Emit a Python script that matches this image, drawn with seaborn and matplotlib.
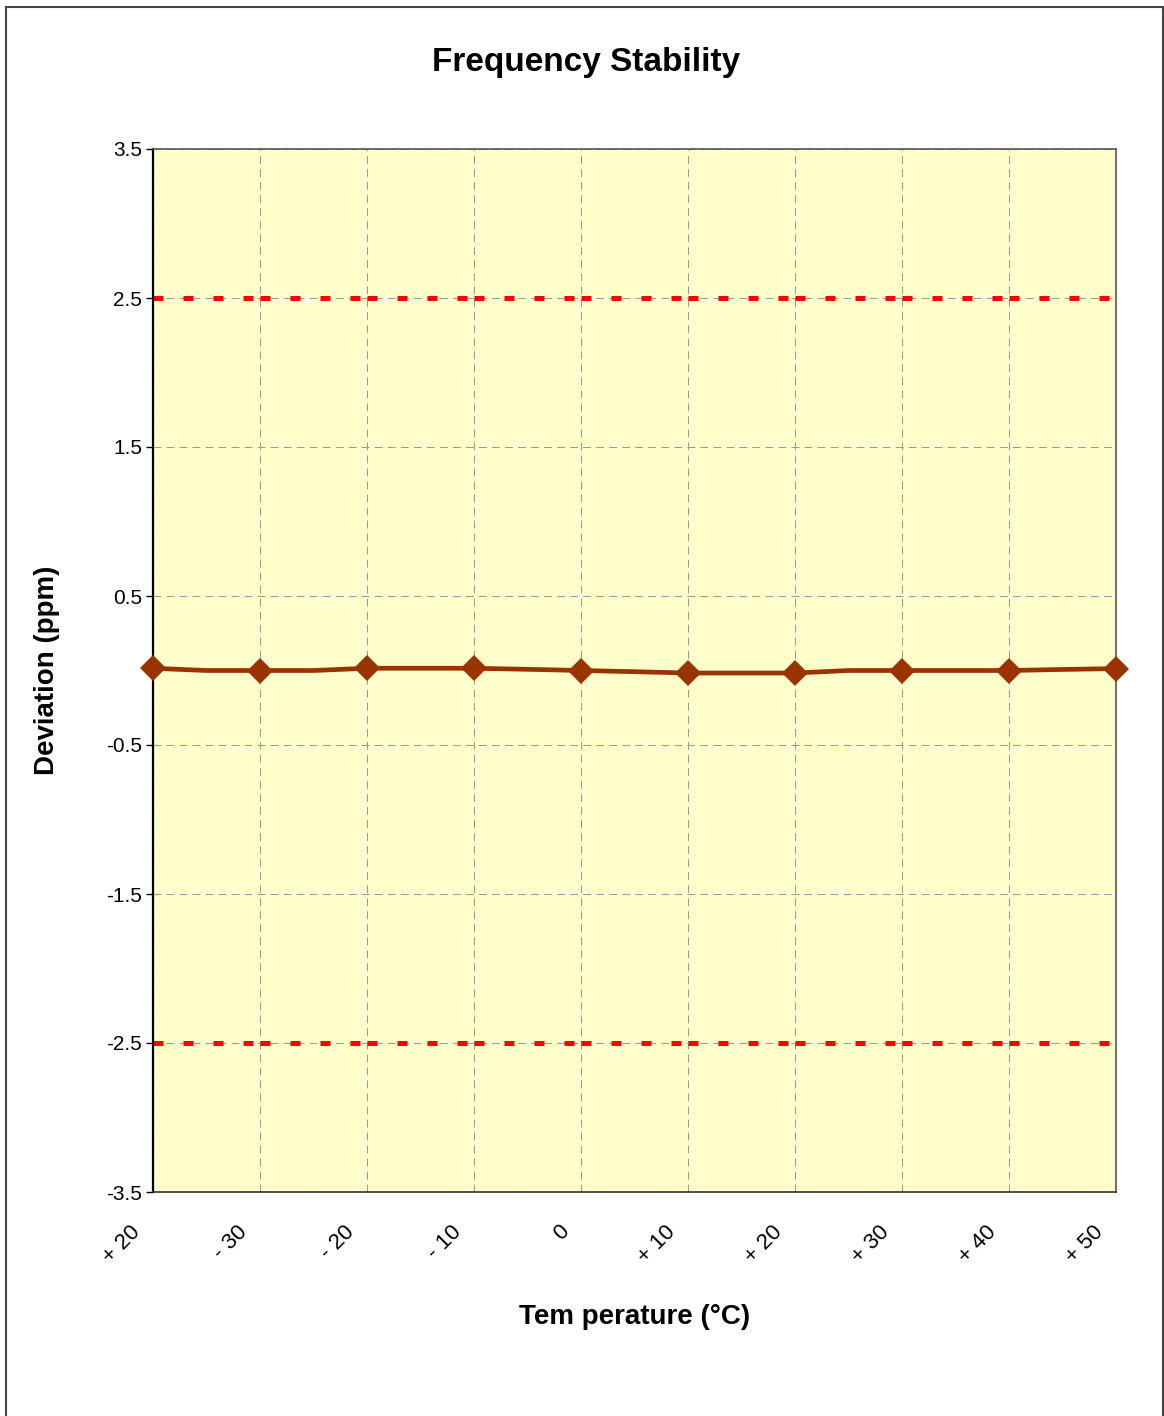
import matplotlib
matplotlib.use("Agg")
import matplotlib.pyplot as plt
import matplotlib.transforms as mtransforms
from matplotlib.patches import Rectangle
import seaborn as sns
import numpy as np

# ---- data ----
temp_labels = ["+ 20", "- 30", "- 20", "- 10", "0", "+ 10", "+ 20", "+ 30", "+ 40", "+ 50"]
deviation = [0.015, 0.0, 0.015, 0.015, 0.0, -0.017, -0.017, 0.0, 0.0, 0.013]
# values of the trace midway between the measured points (line bends)
deviation_mid = [0.0, 0.0, 0.015, 0.008, -0.008, -0.017, 0.0, 0.0, 0.007]
limit_upper = 2.5
limit_lower = -2.5
y_ticks = [3.5, 2.5, 1.5, 0.5, -0.5, -1.5, -2.5, -3.5]

sns.set_style("white")
plt.rcParams['font.family'] = ['Liberation Sans', 'DejaVu Sans']
plt.rcParams['text.color'] = 'black'
plt.rcParams['axes.labelcolor'] = 'black'
plt.rcParams['xtick.color'] = 'black'
plt.rcParams['ytick.color'] = 'black'

W, H = 1164, 1416
fig = plt.figure(figsize=(W / 100, H / 100), dpi=100)
ax = fig.add_axes([153 / W, 1 - 1192 / H, (1116 - 153) / W, (1192 - 149) / H])
ax.set_facecolor("#FFFFCC")

# full trace (measured + mid points)
pos = np.arange(len(deviation))
trace_x, trace_y = [], []
for i in range(len(deviation)):
    trace_x.append(pos[i]); trace_y.append(deviation[i])
    if i < len(deviation_mid):
        trace_x.append(pos[i] + 0.5); trace_y.append(deviation_mid[i])

# limit lines, drawn per category interval so the dash pattern restarts
for lim in (limit_upper, limit_lower):
    ax.hlines([lim] * (len(pos) - 1), pos[:-1], pos[1:], colors="#FF0000",
              linewidth=3.6, linestyles=[(0, (2.0, 4.0))], zorder=2,
              capstyle="butt")

sns.lineplot(x=trace_x, y=trace_y, ax=ax, color="#993300", lw=3.4,
             zorder=4, sort=False, estimator=None)
sns.lineplot(x=pos, y=deviation, ax=ax, color="#993300", lw=0,
             marker="D", markersize=13, markeredgewidth=0,
             zorder=5, clip_on=False, estimator=None)

ax.set_xlim(0, len(deviation) - 1)
ax.set_ylim(-3.5, 3.5)
ax.set_yticks(y_ticks)
ax.set_yticklabels([f"{v:.1f}" for v in y_ticks], fontsize=15)
ax.set_xticks(pos)
ax.set_xticklabels(temp_labels, fontsize=16, rotation=45, ha="right",
                   va="top")
ax.tick_params(axis="x", length=0, pad=21)
ax.tick_params(axis="y", length=5, width=1, color="black", direction="out",
               pad=3, left=True)
offset = mtransforms.ScaledTranslation(-8 / 100, 0, fig.dpi_scale_trans)
for lbl in ax.get_xticklabels():
    lbl.set_transform(lbl.get_transform() + offset)

ax.grid(True, color="#999999", linestyle=(0, (7.5, 5)), lw=0.75, zorder=1)
ax.set_axisbelow(True)

for s in ax.spines.values():
    s.set_color("#555555")
    s.set_linewidth(1.2)
    s.set_visible(True)
ax.spines["left"].set_color("black")
ax.spines["left"].set_linewidth(1.6)
ax.spines["bottom"].set_color("#333333")

ax.set_title("Frequency Stability", fontsize=24, fontweight="bold",
             x=(586 - 153) / 963, y=(1192 - 62) / 1043, va="center", pad=0)
ax.set_ylabel("Deviation (ppm)", fontsize=20, fontweight="bold")
ax.yaxis.set_label_coords((47 - 153) / 963, 0.5)
ax.set_xlabel("Tem perature (°C)", fontsize=20, fontweight="bold")
ax.xaxis.set_label_coords(0.5, (1192 - 1317) / 1043)
ax.xaxis.label.set_va("center")
ax.yaxis.label.set_va("center")

fig.patches.append(Rectangle((6 / W, -0.01), (1163 - 6) / W, 1 - 7 / H + 0.01,
                             transform=fig.transFigure, fill=False,
                             edgecolor="#444444", lw=1.5))

fig.savefig("out.png", dpi=100, facecolor="white")
